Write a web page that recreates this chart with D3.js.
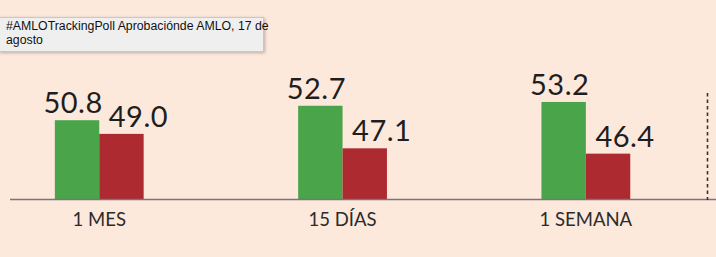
<!DOCTYPE html>
<html>
<head>
<meta charset="utf-8">
<script src="https://cdn.jsdelivr.net/npm/d3@7"></script>
<style>
  html, body { margin: 0; padding: 0; background: #fde8dc; overflow: hidden; }
  #tip {
    position: absolute; left: -1px; top: 17px; width: 257px; height: 32px;
    background: #efefef; border: 1px solid #c8c8c8;
    box-shadow: 1px 1px 3px rgba(0,0,0,0.25);
    font-family: "Liberation Sans", Arial, sans-serif; font-size: 12.3px; line-height: 14px;
    color: #111; padding: 1px 0 0 6px; box-sizing: content-box; white-space: nowrap;
  }
</style>
</head>
<body>
<svg id="chart" width="716" height="257"></svg>
<div id="tip">#AMLOTrackingPoll Aprobaciónde AMLO, 17 de<br>agosto</div>
<script>
const categories = ["1 MES", "15 DÍAS", "1 SEMANA"];
const series = ["Aprueba", "Desaprueba"];
const aprueba = [50.8, 52.7, 53.2];
const desaprueba = [49.0, 47.1, 46.4];
const colors = ["#4aa54a", "#ae2a31"];

const W = 716, H = 257;
const svg = d3.select("#chart");

const step = 243.3;
const x0 = -22.4;
const x = d3.scaleBand()
  .domain(categories)
  .range([x0, x0 + step * categories.length])
  .paddingInner(0.635)
  .paddingOuter(0.3175);
const xs = d3.scaleBand().domain(series).range([0, x.bandwidth()]);

const baseY = 200;
const y = d3.scaleLinear().domain([40.3, 60]).range([baseY, baseY - 19.7 * 7.6]);

const rows = categories.map((c, i) => ({ cat: c, vals: [aprueba[i], desaprueba[i]] }));

const g = svg.selectAll("g.grp").data(rows).join("g")
  .attr("class", "grp")
  .attr("transform", d => `translate(${x(d.cat)},0)`);

g.selectAll("rect").data(d => d.vals.map((v, j) => ({ s: series[j], v, j }))).join("rect")
  .attr("x", d => xs(d.s))
  .attr("y", d => y(d.v))
  .attr("width", xs.bandwidth())
  .attr("height", d => baseY - y(d.v))
  .attr("fill", d => colors[d.j]);

const labelNudge = [-4, 17];
g.selectAll("text.val").data(d => d.vals.map((v, j) => ({ s: series[j], v, j }))).join("text")
  .attr("class", "val")
  .attr("x", d => xs(d.s) + xs.bandwidth() / 2 + labelNudge[d.j])
  .attr("y", d => y(d.v) - 7)
  .attr("text-anchor", "middle")
  .attr("font-family", "Lato, 'Noto Sans', sans-serif")
  .attr("font-size", 29)
  .attr("letter-spacing", 0.5)
  .attr("fill", "#1e1e1e")
  .text(d => d.v.toFixed(1));

// axis
const axis = d3.axisBottom(x).tickSize(0).tickPadding(12);
const ax = svg.append("g").attr("transform", `translate(0,${baseY})`).call(axis);
ax.select(".domain").remove();
ax.selectAll("text")
  .attr("font-family", "Lato, 'Noto Sans', sans-serif")
  .attr("font-size", 18.5)
  .attr("fill", "#2b2b2b")
  .attr("dy", "0.75em");

svg.append("line")
  .attr("x1", 10).attr("x2", W)
  .attr("y1", baseY - 0.5).attr("y2", baseY - 0.5)
  .attr("stroke", "#7a7676").attr("stroke-width", 1.6);

// dashed separator after last category
const sepX = x(categories[categories.length - 1]) + x.bandwidth() / 2 + step / 2;
svg.append("line")
  .attr("x1", sepX).attr("x2", sepX)
  .attr("y1", 93).attr("y2", baseY)
  .attr("stroke", "#333").attr("stroke-width", 1.6)
  .attr("stroke-dasharray", "3.5,3");
</script>
</body>
</html>
